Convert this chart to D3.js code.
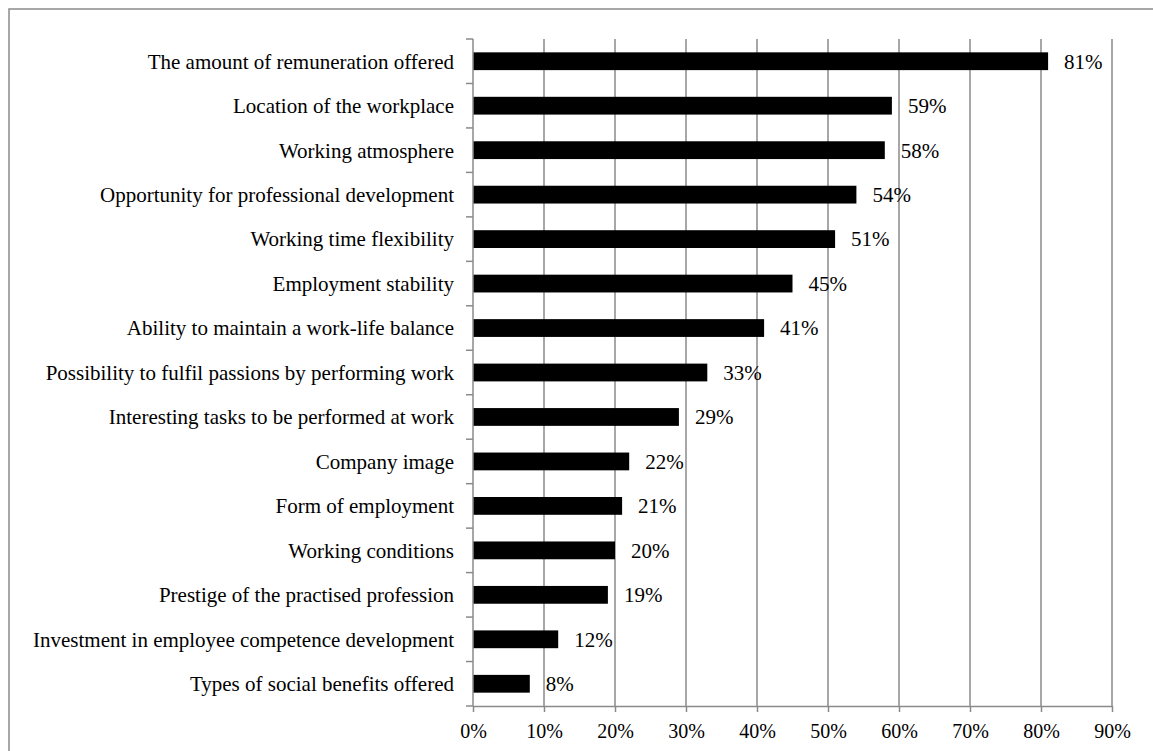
<!DOCTYPE html>
<html>
<head>
<meta charset="utf-8">
<script src="https://cdn.jsdelivr.net/npm/d3@7"></script>
<style>
  body { margin: 0; background: #fff; }
  text { font-family: "Liberation Serif", "Times New Roman", serif; fill: #000; }
</style>
</head>
<body>
<svg id="chart"></svg>
<script>
// data
const categories = [
  "The amount of remuneration offered",
  "Location of the workplace",
  "Working atmosphere",
  "Opportunity for professional development",
  "Working time flexibility",
  "Employment stability",
  "Ability to maintain a work-life balance",
  "Possibility to fulfil passions by performing work",
  "Interesting tasks to be performed at work",
  "Company image",
  "Form of employment",
  "Working conditions",
  "Prestige of the practised profession",
  "Investment in employee competence development",
  "Types of social benefits offered"
];
const values = [81, 59, 58, 54, 51, 45, 41, 33, 29, 22, 21, 20, 19, 12, 8];
const xTicks = [0, 10, 20, 30, 40, 50, 60, 70, 80, 90];

const size = { width: 1153, height: 751 };
const margin = { top: 39, right: 41, bottom: 45, left: 473 };
const width = size.width - margin.left - margin.right;
const height = size.height - margin.top - margin.bottom;
const gridColor = "#8a8a8a";

const root = d3.select("#chart")
  .attr("width", size.width)
  .attr("height", size.height);

// outer frame (right and bottom edges run off the picture)
root.append("rect")
  .attr("x", 9).attr("y", 9)
  .attr("width", size.width + 10).attr("height", size.height + 10)
  .attr("fill", "none")
  .attr("stroke", gridColor)
  .attr("stroke-width", 1.5);

const svg = root.append("g")
  .attr("transform", "translate(" + margin.left + "," + margin.top + ")");

const x = d3.scaleLinear().domain([0, 90]).range([0, width]);
const y = d3.scaleBand().domain(categories).range([0, height]).paddingInner(0.6).paddingOuter(0.3);

// vertical gridlines
svg.append("g")
  .selectAll("line")
  .data(xTicks.slice(1))
  .join("line")
  .attr("x1", d => x(d)).attr("x2", d => x(d))
  .attr("y1", 0).attr("y2", height)
  .attr("stroke", gridColor)
  .attr("stroke-width", 1.5);

// bars
svg.append("g")
  .selectAll("rect")
  .data(values)
  .join("rect")
  .attr("x", x(0))
  .attr("y", (d, i) => y(categories[i]))
  .attr("width", d => x(d) - x(0))
  .attr("height", y.bandwidth())
  .attr("fill", "#000");

// value labels
svg.append("g")
  .selectAll("text")
  .data(values)
  .join("text")
  .attr("x", d => x(d) + 16)
  .attr("y", (d, i) => y(categories[i]) + y.bandwidth() / 2)
  .attr("dy", "0.35em")
  .attr("font-size", 21)
  .text(d => d + "%");

// bottom axis
const xAxis = svg.append("g")
  .attr("transform", "translate(0," + height + ")")
  .call(d3.axisBottom(x).tickValues(xTicks).tickFormat(d => d + "%").tickSize(6).tickPadding(12).tickSizeOuter(0));
xAxis.selectAll("path, line").attr("stroke", gridColor).attr("stroke-width", 1.5);
xAxis.selectAll("text").attr("font-size", 20).attr("font-family", "Liberation Serif");

// left axis: labels centred on bands, ticks at band boundaries
const step = height / categories.length;
const yAxis = svg.append("g");
yAxis.append("line")
  .attr("x1", 0).attr("x2", 0).attr("y1", 0).attr("y2", height)
  .attr("stroke", gridColor).attr("stroke-width", 1.5);
yAxis.selectAll(".tick-line")
  .data(d3.range(categories.length + 1))
  .join("line")
  .attr("x1", -7).attr("x2", 0)
  .attr("y1", d => d * step).attr("y2", d => d * step)
  .attr("stroke", gridColor).attr("stroke-width", 1.5);
yAxis.selectAll("text")
  .data(categories)
  .join("text")
  .attr("x", -19)
  .attr("y", d => y(d) + y.bandwidth() / 2)
  .attr("dy", "0.35em")
  .attr("text-anchor", "end")
  .attr("font-size", 21)
  .text(d => d);
</script>
</body>
</html>
